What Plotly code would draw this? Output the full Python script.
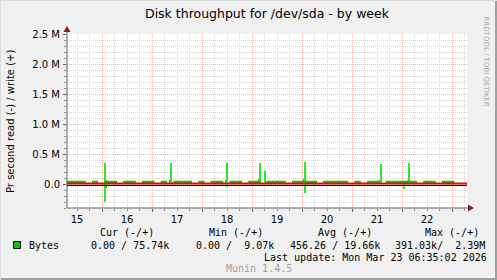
import plotly.graph_objects as go

# ---- data (values in M bytes/s, time in day-of-month, March 2026) ----
start_day = 15.3
bin_days = 0.125
write_base = [0.055, 0.055, 0.055, 0.015, 0.055, 0.015, 0.055, 0.055,
              0.015, 0.055, 0.055, 0.015, 0.055, 0.055, 0.015, 0.055,
              0.015, 0.055, 0.055, 0.055, 0.015, 0.055, 0.015, 0.055,
              0.055, 0.015, 0.055, 0.055, 0.015, 0.055, 0.055, 0.015,
              0.055, 0.055, 0.055, 0.015, 0.055, 0.055, 0.055, 0.055,
              0.015, 0.055, 0.055, 0.055, 0.055, 0.015, 0.055, 0.015,
              0.055, 0.055, 0.015, 0.055, 0.055, 0.055, 0.055, 0.055,
              0.015, 0.055, 0.055, 0.015, 0.055, 0.055, 0.015, 0.015]
burst_day = [16.06, 17.36, 18.49, 19.15, 19.26, 20.05, 21.57, 22.12]
burst_write = [0.075, 0.06, 0.075, 0.08, 0.05, 0.08, 0.075, 0.075]
spike_day = [16.07, 17.38, 18.51, 19.17, 19.27, 20.07, 21.59, 22.15]
spike_write = [0.355, 0.355, 0.355, 0.355, 0.217, 0.367, 0.333, 0.355]
read_day = [16.07, 18.51, 20.07, 22.04]
read_val = [-0.295, -0.045, -0.145, -0.08]
read_burst_day = [16.06]
read_burst_val = [-0.06]

day_labels = ["15", "16", "17", "18", "19", "20", "21", "22"]
day_label_pos = [15.5, 16.5, 17.5, 18.5, 19.5, 20.5, 21.5, 22.5]
midnights = [16, 17, 18, 19, 20, 21, 22, 23]
y_ticks = [0, 0.5, 1.0, 1.5, 2.0, 2.5]
y_tick_text = ["0.0", "0.5 M", "1.0 M", "1.5 M", "2.0 M", "2.5 M"]

title = "Disk throughput for /dev/sda - by week"
y_title = "Pr second read (-) / write (+)"
legend_cols = ["Cur (-/+)", "Min (-/+)", "Avg (-/+)", "Max (-/+)"]
legend_vals = ["0.00 / 75.74k", "0.00 /  9.07k", "456.26 / 19.66k", "391.03k/  2.39M"]
last_update = "Last update: Mon Mar 23 06:35:02 2026"

# ---- geometry ----
W, H = 497, 280
L, R, T, B = 67, 467, 34, 208
x_range = [15.3, 23.3]
y_range = [-0.4, 2.5]

def px(x):
    return (x - L) / (R - L)

def py(y):
    return (B - y) / (B - T)

GREEN = "#00CC00"
SPIKE = "#22EE22"
SANS = "DejaVu Sans"
MONO = "DejaVu Sans Mono"

fig = go.Figure()

bx = [start_day + i * bin_days for i in range(len(write_base))] + [start_day + len(write_base) * bin_days]
by = write_base + [write_base[-1]]
fig.add_trace(go.Scatter(x=bx, y=by, mode="lines", line=dict(width=0, shape="hv"),
                         fill="tozeroy", fillcolor=GREEN, hoverinfo="skip"))
fig.add_trace(go.Bar(x=burst_day, y=burst_write, width=0.06, marker=dict(color=GREEN, line=dict(width=0))))
fig.add_trace(go.Bar(x=read_burst_day, y=read_burst_val, width=0.06, marker=dict(color=GREEN, line=dict(width=0))))
fig.add_trace(go.Bar(x=spike_day, y=spike_write, width=0.03, marker=dict(color=SPIKE, line=dict(width=0))))
fig.add_trace(go.Bar(x=read_day, y=read_val, width=0.03, marker=dict(color=SPIKE, line=dict(width=0))))

grid_minor = "#D4D4D4"
grid_major = "#F5B0B0"

fig.update_layout(
    width=W, height=H,
    margin=dict(l=L, r=W - R, t=T, b=H - B),
    paper_bgcolor="#F0F0F0", plot_bgcolor="#FFFFFF",
    showlegend=False, barmode="overlay", bargap=0,
    font=dict(family=SANS, size=10, color="#000000"),
    xaxis=dict(range=x_range, tickvals=midnights, showticklabels=False,
               showgrid=True, gridcolor=grid_major, griddash="1px,1px", gridwidth=1,
               ticks="outside", ticklen=3, tickcolor="#606060",
               minor=dict(dtick=0.25, tick0=15.0, showgrid=True, gridcolor=grid_minor,
                          griddash="1px,1px", ticks="outside", ticklen=2, tickcolor="#909090"),
               zeroline=False, showline=False, fixedrange=True),
    xaxis2=dict(range=x_range, overlaying="x", anchor="y", side="bottom",
                tickvals=day_label_pos, ticktext=day_labels, showgrid=False, ticks="",
                ticklabelstandoff=4, tickfont=dict(family=SANS, size=10), zeroline=False,
                showline=False),
    yaxis=dict(range=y_range, tickvals=y_ticks, ticktext=y_tick_text,
               showgrid=True, gridcolor=grid_major, griddash="1px,1px",
               ticks="outside", ticklen=3, tickcolor="#606060",
               tickfont=dict(family=SANS, size=10), ticklabelstandoff=1,
               minor=dict(dtick=0.1, tick0=0, showgrid=True, gridcolor=grid_minor,
                          griddash="1px,1px", ticks="outside", ticklen=2, tickcolor="#909090"),
               zeroline=False, showline=False, fixedrange=True),
)
# invisible trace on xaxis2 so its labels render
fig.add_trace(go.Scatter(x=[x_range[0]], y=[0], xaxis="x2", mode="markers",
                         marker=dict(opacity=0), hoverinfo="skip"))

shapes = []
# zero lines
shapes.append(dict(type="line", xref="paper", x0=0, x1=1, yref="y", ysizemode="pixel",
                   yanchor=0, y0=0.5, y1=0.5, line=dict(color="#FF0000", width=2)))
shapes.append(dict(type="line", xref="paper", x0=0, x1=1, yref="y", ysizemode="pixel",
                   yanchor=0, y0=-1.5, y1=-1.5, line=dict(color="#000000", width=1)))
# axis lines
shapes.append(dict(type="line", xref="paper", yref="paper", x0=px(L), x1=px(L),
                   y0=py(B), y1=py(31), line=dict(color="#606060", width=1)))
shapes.append(dict(type="line", xref="paper", yref="paper", x0=px(L), x1=px(470),
                   y0=py(B), y1=py(B), line=dict(color="#606060", width=1)))
# arrows
ARROW = "#8B1A1A"
shapes.append(dict(type="path", xref="paper", yref="paper",
                   path=f"M {px(L-3.5)},{py(32)} L {px(L+3.5)},{py(32)} L {px(L)},{py(26)} Z",
                   fillcolor=ARROW, line=dict(width=0)))
shapes.append(dict(type="path", xref="paper", yref="paper",
                   path=f"M {px(468)},{py(B-3.5)} L {px(468)},{py(B+3.5)} L {px(474)},{py(B)} Z",
                   fillcolor=ARROW, line=dict(width=0)))
# legend square
shapes.append(dict(type="rect", xref="paper", yref="paper", x0=px(13.5), x1=px(20.5),
                   y0=py(248.5), y1=py(241.5), fillcolor=GREEN, line=dict(color="#000000", width=1)))
# 3D border
shapes.append(dict(type="line", xref="paper", yref="paper", x0=px(0), x1=px(W), y0=py(H-1), y1=py(H-1),
                   line=dict(color="#A0A0A0", width=2)))
shapes.append(dict(type="line", xref="paper", yref="paper", x0=px(W-1), x1=px(W-1), y0=py(0), y1=py(H),
                   line=dict(color="#A0A0A0", width=2)))
shapes.append(dict(type="line", xref="paper", yref="paper", x0=px(0.5), x1=px(0.5), y0=py(0), y1=py(H),
                   line=dict(color="#DCDCDC", width=1)))
shapes.append(dict(type="line", xref="paper", yref="paper", x0=px(0), x1=px(W), y0=py(0.5), y1=py(0.5),
                   line=dict(color="#DCDCDC", width=1)))
fig.update_layout(shapes=shapes)

ann = []
def text(x, y, s, size=10, family=SANS, color="#000000", xanchor="left", angle=0):
    ann.append(dict(x=px(x), y=py(y), xref="paper", yref="paper", text=s, showarrow=False,
                    xanchor=xanchor, yanchor="middle", textangle=angle,
                    font=dict(family=family, size=size, color=color)))

text(267.5, 14, title, size=12.5, xanchor="center")
text(10, 122, y_title, size=10, xanchor="center", angle=-90)
text(485.5, 62, "RRDTOOL / TOBI OETIKER", size=7, color="#A8A8A8", xanchor="center", angle=90)
col_x = [98, 207, 316, 423]
for cx, s in zip(col_x, legend_cols):
    text(cx, 232, s, family=MONO)
text(27, 245, "Bytes", family=MONO)
val_x = [89, 194, 288, 393]
for vx, s in zip(val_x, legend_vals):
    text(vx, 245, s.replace(" ", "&nbsp;"), family=MONO)
text(262, 257, last_update, family=MONO)
text(224, 268, "Munin 1.4.5", family=MONO, color="#A0A0A0")
fig.update_layout(annotations=ann)

fig.write_html("out.html")
